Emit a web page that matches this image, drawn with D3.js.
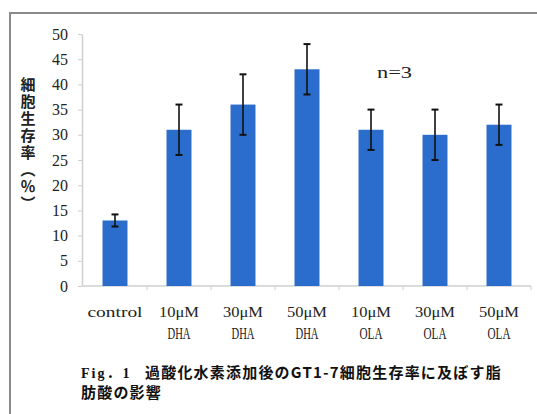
<!DOCTYPE html>
<html>
<head>
<meta charset="utf-8">
<script src="https://cdn.jsdelivr.net/npm/d3@7"></script>
<style>
  html, body { margin: 0; padding: 0; background: #ffffff; }
  svg { display: block; }
</style>
</head>
<body>
<svg id="chart" width="537" height="414"></svg>
<script>
// Cell viability after H2O2 treatment, by fatty acid and dose (n=3)
const categories = ["control", "10DHA", "30DHA", "50DHA", "10OLA", "30OLA", "50OLA"];
const labelTop    = ["control", "10μM", "30μM", "50μM", "10μM", "30μM", "50μM"];
const labelBottom = ["", "DHA", "DHA", "DHA", "OLA", "OLA", "OLA"];
const viability   = [13, 31, 36, 43, 31, 30, 32];
const errors      = [1.2, 5, 6, 5, 4, 5, 4];
const yTicks      = [0, 5, 10, 15, 20, 25, 30, 35, 40, 45, 50];

const svg = d3.select("#chart");

// frame lines along the top and left edge of the figure
svg.append("line").attr("x1", 10).attr("x2", 537).attr("y1", 13).attr("y2", 13)
  .attr("stroke", "#8a8a8a").attr("stroke-width", 2);
svg.append("line").attr("x1", 10).attr("x2", 10).attr("y1", 12).attr("y2", 414)
  .attr("stroke", "#8a8a8a").attr("stroke-width", 2);

const x = d3.scaleBand().domain(categories).range([83, 531]).padding(0);
const y = d3.scaleLinear().domain([0, 50]).range([286, 34]);

const axisColor = "#cfcfcf";

// y axis
const yAxis = svg.append("g")
  .attr("transform", "translate(82,0)")
  .call(d3.axisLeft(y).tickValues(yTicks).tickSize(4).tickPadding(10).tickSizeOuter(0));
yAxis.select(".domain").attr("stroke", axisColor).attr("stroke-width", 1.5);
yAxis.selectAll(".tick line").attr("stroke", axisColor);
yAxis.selectAll(".tick text")
  .attr("font-family", "'Liberation Serif', serif")
  .attr("font-size", 16)
  .attr("fill", "#222");

// x axis baseline with ticks at category boundaries
svg.append("line")
  .attr("x1", x.range()[0] - 1).attr("x2", x.range()[1])
  .attr("y1", y(0)).attr("y2", y(0))
  .attr("stroke", axisColor).attr("stroke-width", 1.5);
svg.append("g").selectAll("line")
  .data(categories)
  .join("line")
  .attr("x1", d => x(d) + x.bandwidth())
  .attr("x2", d => x(d) + x.bandwidth())
  .attr("y1", y(0)).attr("y2", y(0) + 4)
  .attr("stroke", axisColor);

// bars
const barW = x.bandwidth() * 0.39;
const cx = d => x(d) + x.bandwidth() / 2;

svg.append("g").selectAll("rect")
  .data(categories)
  .join("rect")
  .attr("x", d => cx(d) - barW / 2)
  .attr("width", barW)
  .attr("y", (d, i) => y(viability[i]))
  .attr("height", (d, i) => y(0) - y(viability[i]))
  .attr("fill", "#2b6dcc");

// error bars
const eb = svg.append("g").attr("stroke", "#111");
categories.forEach((c, i) => {
  const hi = y(viability[i] + errors[i]);
  const lo = y(viability[i] - errors[i]);
  eb.append("line").attr("x1", cx(c)).attr("x2", cx(c)).attr("y1", hi).attr("y2", lo)
    .attr("stroke-width", 1.6);
  eb.append("line").attr("x1", cx(c) - 3.5).attr("x2", cx(c) + 3.5).attr("y1", hi).attr("y2", hi)
    .attr("stroke-width", 2);
  eb.append("line").attr("x1", cx(c) - 3.5).attr("x2", cx(c) + 3.5).attr("y1", lo).attr("y2", lo)
    .attr("stroke-width", 2);
});

// category labels (two rows), fitted to narrow fixed-pitch widths
const fitWidth = s => s === "control" ? 55 : s.length === 3 ? 23 : 40;
const xl = svg.append("g")
  .attr("font-family", "'Liberation Serif', serif")
  .attr("fill", "#222")
  .attr("text-anchor", "middle");
categories.forEach((c, i) => {
  xl.append("text").attr("x", cx(c)).attr("y", 317)
    .attr("font-size", 15)
    .attr("textLength", fitWidth(labelTop[i])).attr("lengthAdjust", "spacingAndGlyphs")
    .text(labelTop[i]);
  if (labelBottom[i]) xl.append("text").attr("x", cx(c)).attr("y", 339)
    .attr("font-size", 16)
    .attr("textLength", fitWidth(labelBottom[i])).attr("lengthAdjust", "spacingAndGlyphs")
    .text(labelBottom[i]);
});

// y axis title, set vertically
svg.append("text")
  .attr("x", 28).attr("y", 77)
  .attr("writing-mode", "vertical-rl")
  .attr("font-family", "'Noto Sans CJK JP', sans-serif")
  .attr("font-weight", 700)
  .attr("font-size", 15)
  .attr("letter-spacing", 2)
  .attr("fill", "#222")
  .text("細胞生存率（％）");

// sample size note
svg.append("text")
  .attr("x", 377).attr("y", 78)
  .attr("font-family", "'Liberation Serif', serif")
  .attr("font-size", 16)
  .attr("textLength", 35).attr("lengthAdjust", "spacingAndGlyphs")
  .attr("fill", "#222")
  .text("n=3");

// figure caption
const cap = svg.append("text")
  .attr("x", 81).attr("y", 378)
  .attr("font-weight", 700)
  .attr("font-size", 15)
  .attr("fill", "#111");
cap.append("tspan")
  .attr("font-family", "'Liberation Serif', 'Noto Sans CJK JP', serif")
  .attr("font-size", 14)
  .attr("letter-spacing", 2)
  .text("Fig．1");
cap.append("tspan")
  .attr("x", 145)
  .attr("font-family", "'Noto Sans CJK JP', sans-serif")
  .attr("letter-spacing", 1.2)
  .text("過酸化水素添加後のGT1-7細胞生存率に及ぼす脂");
svg.append("text")
  .attr("x", 81).attr("y", 398)
  .attr("font-family", "'Noto Sans CJK JP', sans-serif")
  .attr("font-weight", 700)
  .attr("font-size", 15)
  .attr("letter-spacing", 1.2)
  .attr("fill", "#111")
  .text("肪酸の影響");
</script>
</body>
</html>
